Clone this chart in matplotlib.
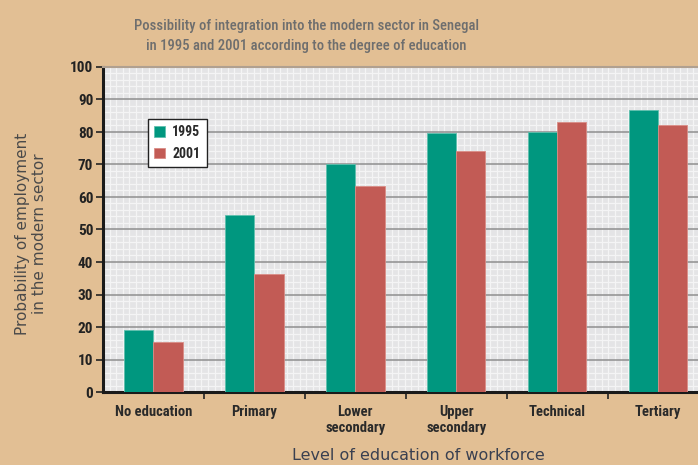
import matplotlib
matplotlib.use("Agg")
import matplotlib.pyplot as plt
import numpy as np
from matplotlib.ticker import MultipleLocator, FixedLocator
from matplotlib import font_manager as fm

categories = ["No education", "Primary", "Lower\nsecondary", "Upper\nsecondary", "Technical", "Tertiary"]
values_1995 = [19, 54.5, 70.3, 79.8, 80.1, 86.8]
values_2001 = [15.5, 36.3, 63.5, 74.2, 83.2, 82.0]
series_labels = ["1995", "2001"]
title = "Possibility of integration into the modern sector in Senegal\nin 1995 and 2001 according to the degree of education"

BG = "#E2BF94"
TEAL = "#00977F"
RED = "#C25B55"

names = {f.name for f in fm.fontManager.ttflist}
cond = None
for cand in ["Liberation Sans Narrow", "DejaVu Sans Condensed", "Roboto Condensed", "Open Sans Condensed"]:
    if cand in names:
        cond = cand
        break
if cond is None:
    cond = "DejaVu Sans"
narrow = [cond, "DejaVu Sans"]
stretch = "condensed"

fig = plt.figure(figsize=(6.98, 4.65), dpi=100, facecolor=BG)
ax = fig.add_axes([103/698, 1-392/465, 1-103/698, (392-67)/465])
ax.set_facecolor("#E4E4E6")

x = np.arange(len(categories))
w = 0.29
ax.bar(x - w/2, values_1995, w, color=TEAL, edgecolor="#5FC0AE", linewidth=0.6, label=series_labels[0], zorder=3)
ax.bar(x + w/2, values_2001, w, color=RED, edgecolor="#D98C86", linewidth=0.6, label=series_labels[1], zorder=3)

ax.set_xlim(-0.5, (698-153)/101)
ax.set_ylim(0, 100)

ax.yaxis.set_minor_locator(MultipleLocator(2))
ax.grid(which="minor", axis="y", color="#F4F4F5", linewidth=0.9, zorder=0)
ax.yaxis.set_major_locator(MultipleLocator(10))
ax.grid(which="major", axis="y", color="#8F8F8F", linewidth=1.1, zorder=1)
ax.grid(which="major", axis="x", visible=False)
for gx in np.arange(-0.5, 5.5, 0.065):
    ax.axvline(gx, color="#F4F4F5", linewidth=0.9, zorder=0)

ax.set_xticks(x)
ax.set_xticklabels(categories, fontweight="bold", fontsize=10.5, color="#2a2a2a", family=narrow,
                   fontstretch=stretch, linespacing=1.2)
ax.tick_params(axis="x", which="major", length=0, pad=9)
ax.xaxis.set_minor_locator(FixedLocator(list(np.arange(0.5, len(categories) - 0.5, 1.0))))
ax.tick_params(axis="x", which="minor", length=5, width=1.2, color="#222222", direction="out")

ax.tick_params(axis="y", which="major", length=5, width=1.2, color="#222222", labelsize=11, labelcolor="#222222", pad=2)
ax.tick_params(axis="y", which="minor", length=0)
for lab in ax.get_yticklabels():
    lab.set_fontweight("bold")
    lab.set_family(narrow)
    lab.set_fontstretch(stretch)

for s in ["left", "bottom"]:
    ax.spines[s].set_linewidth(2.2)
    ax.spines[s].set_color("#1a1a1a")
ax.spines["right"].set_visible(False)
ax.spines["top"].set_color("#B0A090")
ax.spines["top"].set_linewidth(1.5)

leg = ax.legend(loc="upper left", bbox_to_anchor=((148-103)/595, (392-119)/325), frameon=True,
                fancybox=False, edgecolor="#222222", framealpha=1, facecolor="white",
                handlelength=0.8, handleheight=0.8, handletextpad=0.5, borderpad=0.45,
                labelspacing=0.55, borderaxespad=0,
                prop={"family": narrow, "weight": "bold", "size": 10, "stretch": stretch})
leg.get_frame().set_linewidth(1.0)
for t in leg.get_texts():
    t.set_color("#2a2a2a")

fig.text(306/698, 1-36/465, title, ha="center", va="center", fontsize=10.5, color="#6e6e6e",
         family=narrow, fontstretch=stretch, fontweight="medium", linespacing=1.5)
fig.text(31/698, 1-234/465, "Probability of employment\nin the modern sector", rotation=90,
         ha="center", va="center", fontsize=11, color="#4a4a4a", linespacing=1.15)
fig.text(418/698, 1-463/465, "Level of education of workforce", ha="center", va="bottom",
         fontsize=11.5, color="#3a4050")

fig.savefig("out.png", dpi=100, facecolor=BG)
